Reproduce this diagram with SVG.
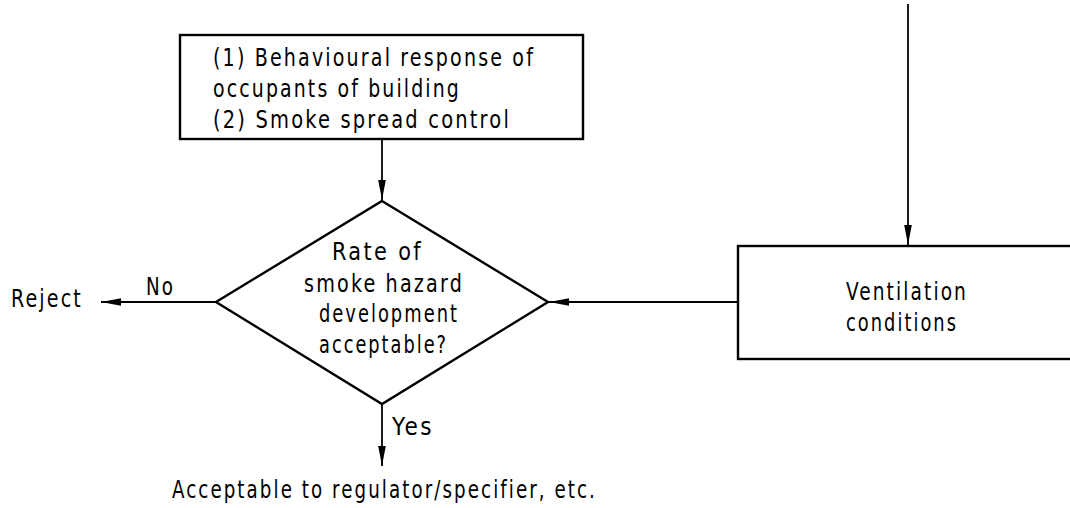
<svg xmlns="http://www.w3.org/2000/svg" width="1070" height="508" viewBox="0 0 1070 508">
  <style>
    .shape { fill: #ffffff; stroke: #000000; stroke-width: 2.4; }
    .link { fill: none; stroke: #000000; stroke-width: 1.8; }
    text { font-family: "DejaVu Sans Condensed", "DejaVu Sans", sans-serif; font-size: 24.5px; letter-spacing: 2.5px; fill: #000000; }
  </style>
  <defs>
    <marker id="arrow" markerUnits="userSpaceOnUse" markerWidth="22" markerHeight="10" refX="20" refY="4" orient="auto">
      <path d="M0,0.2 L20,4 L0,7.8 Z" fill="#000000"/>
    </marker>
  </defs>

  <rect width="1070" height="508" fill="#ffffff"/>

  <!-- connectors -->
  <g id="connectors">
    <line class="link" x1="382" y1="139" x2="382" y2="200" marker-end="url(#arrow)"/>
    <line class="link" x1="908" y1="4" x2="908" y2="245" marker-end="url(#arrow)"/>
    <line class="link" x1="738" y1="302" x2="549" y2="302" marker-end="url(#arrow)"/>
    <line class="link" x1="216" y1="302" x2="101" y2="302" marker-end="url(#arrow)"/>
    <line class="link" x1="382" y1="404" x2="382" y2="466" marker-end="url(#arrow)"/>
    <text x="146" y="295" textLength="29" lengthAdjust="spacingAndGlyphs">No</text>
    <text x="392" y="435" textLength="42" lengthAdjust="spacingAndGlyphs">Yes</text>
  </g>

  <!-- factors box -->
  <g id="factors">
    <rect class="shape" x="180" y="35" width="403" height="104"/>
    <text x="213" y="66" textLength="322" lengthAdjust="spacingAndGlyphs">(1) Behavioural response of</text>
    <text x="213" y="97" textLength="248" lengthAdjust="spacingAndGlyphs">occupants of building</text>
    <text x="213" y="128" textLength="298" lengthAdjust="spacingAndGlyphs">(2) Smoke spread control</text>
  </g>

  <!-- decision -->
  <g id="decision">
    <polygon class="shape" points="382,201 548,302 382,404 216,302"/>
    <text x="332" y="260" textLength="91" lengthAdjust="spacingAndGlyphs">Rate of</text>
    <text x="304" y="292" textLength="160" lengthAdjust="spacingAndGlyphs">smoke hazard</text>
    <text x="319" y="322" textLength="140" lengthAdjust="spacingAndGlyphs">development</text>
    <text x="319" y="353" textLength="129" lengthAdjust="spacingAndGlyphs">acceptable?</text>
  </g>

  <!-- ventilation box -->
  <g id="ventilation">
    <rect class="shape" x="738" y="246" width="345" height="113"/>
    <text x="846" y="300" textLength="122" lengthAdjust="spacingAndGlyphs">Ventilation</text>
    <text x="846" y="331" textLength="112" lengthAdjust="spacingAndGlyphs">conditions</text>
  </g>

  <!-- outcomes -->
  <g id="reject">
    <text x="11" y="307" textLength="72" lengthAdjust="spacingAndGlyphs">Reject</text>
  </g>
  <g id="accept">
    <text x="172" y="498" textLength="425" lengthAdjust="spacingAndGlyphs">Acceptable to regulator/specifier, etc.</text>
  </g>
</svg>
